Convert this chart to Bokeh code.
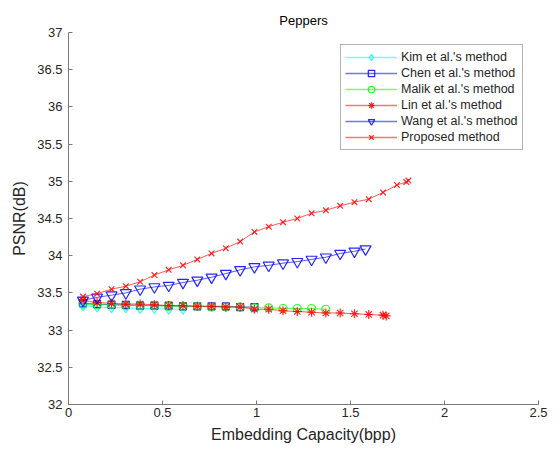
from bokeh.plotting import figure
from bokeh.models import Range1d, FixedTicker, Legend, LegendItem
from bokeh.embed import file_html
from bokeh.resources import INLINE

# PSNR versus embedding capacity for the Peppers image
kim_x = [0.077, 0.152, 0.229, 0.305, 0.381, 0.457, 0.533, 0.609]
kim_y = [33.33, 33.31, 33.30, 33.30, 33.29, 33.29, 33.28, 33.28]

chen_x = [0.077, 0.152, 0.229, 0.305, 0.381, 0.457, 0.533, 0.609, 0.685,
          0.761, 0.837, 0.913, 0.989]
chen_y = [33.36, 33.35, 33.34, 33.34, 33.33, 33.33, 33.33, 33.32, 33.32,
          33.32, 33.32, 33.31, 33.31]

malik_x = [0.077, 0.152, 0.229, 0.305, 0.381, 0.457, 0.533, 0.609, 0.685,
           0.761, 0.837, 0.913, 0.989, 1.065, 1.141, 1.217, 1.293, 1.369]
malik_y = [33.35, 33.34, 33.34, 33.33, 33.33, 33.33, 33.32, 33.32, 33.32,
           33.31, 33.31, 33.31, 33.30, 33.30, 33.29, 33.29, 33.29, 33.28]

lin_x = [0.077, 0.152, 0.229, 0.305, 0.381, 0.457, 0.533, 0.609, 0.685,
         0.761, 0.837, 0.913, 0.989, 1.065, 1.141, 1.217, 1.293, 1.369,
         1.445, 1.521, 1.597, 1.673, 1.690]
lin_y = [33.40, 33.37, 33.36, 33.35, 33.35, 33.34, 33.33, 33.33, 33.32,
         33.32, 33.31, 33.31, 33.28, 33.28, 33.26, 33.25, 33.24, 33.23,
         33.23, 33.22, 33.21, 33.20, 33.19]

wang_x = [0.077, 0.152, 0.229, 0.305, 0.381, 0.457, 0.533, 0.609, 0.685,
          0.761, 0.837, 0.913, 0.989, 1.065, 1.141, 1.217, 1.293, 1.369,
          1.445, 1.521, 1.580]
wang_y = [33.40, 33.44, 33.47, 33.50, 33.55, 33.58, 33.60, 33.64, 33.67,
          33.71, 33.76, 33.81, 33.85, 33.87, 33.90, 33.92, 33.95, 33.98,
          34.03, 34.06, 34.09]

prop_x = [0.077, 0.152, 0.229, 0.305, 0.381, 0.457, 0.533, 0.609, 0.685,
          0.761, 0.837, 0.913, 0.989, 1.065, 1.141, 1.217, 1.293, 1.369,
          1.445, 1.521, 1.597, 1.673, 1.747, 1.797, 1.808]
prop_y = [33.45, 33.49, 33.55, 33.59, 33.65, 33.74, 33.81, 33.87, 33.95,
          34.03, 34.10, 34.19, 34.32, 34.39, 34.45, 34.50, 34.57, 34.61,
          34.67, 34.72, 34.76, 34.85, 34.95, 34.99, 35.01]

x_ticks = [0, 0.5, 1, 1.5, 2, 2.5]
x_tick_labels = ["0", "0.5", "1", "1.5", "2", "2.5"]
y_ticks = [32, 32.5, 33, 33.5, 34, 34.5, 35, 35.5, 36, 36.5, 37]
y_tick_labels = ["32", "32.5", "33", "33.5", "34", "34.5", "35", "35.5",
                 "36", "36.5", "37"]

FONT = "Liberation Sans"
TEXT = "#262626"
AXIS = "#7a7a7a"

p = figure(width=558, height=450, output_backend="svg", toolbar_location=None,
           x_range=Range1d(0, 2.5), y_range=Range1d(32, 37),
           min_border_left=68, min_border_right=20,
           min_border_top=32, min_border_bottom=46,
           title="Peppers")

p.title.align = "center"
p.title.text_font = FONT
p.title.text_font_size = "13px"
p.title.text_font_style = "normal"
p.title.text_color = "#000000"

p.xgrid.visible = False
p.ygrid.visible = False
p.outline_line_color = None
p.background_fill_color = "white"
p.border_fill_color = "white"

for ax in (p.xaxis[0], p.yaxis[0]):
    ax.axis_line_color = AXIS
    ax.axis_line_width = 1
    ax.major_tick_line_color = AXIS
    ax.major_tick_in = 4
    ax.major_tick_out = 0
    ax.minor_tick_line_color = None
    ax.major_label_text_font = FONT
    ax.major_label_text_font_size = "13px"
    ax.major_label_text_color = TEXT
    ax.axis_label_text_font = FONT
    ax.axis_label_text_font_size = "16px"
    ax.axis_label_text_font_style = "normal"
    ax.axis_label_text_color = TEXT

p.xaxis[0].ticker = FixedTicker(ticks=x_ticks)
p.xaxis[0].major_label_overrides = dict(zip(x_ticks, x_tick_labels))
p.xaxis[0].axis_label = "Embedding Capacity(bpp)"
p.xaxis[0].major_label_standoff = 3
p.xaxis[0].axis_label_standoff = 6

p.yaxis[0].ticker = FixedTicker(ticks=y_ticks)
p.yaxis[0].major_label_overrides = dict(zip(y_ticks, y_tick_labels))
p.yaxis[0].axis_label = "PSNR(dB)"
p.yaxis[0].major_label_standoff = 6
p.yaxis[0].axis_label_standoff = 6

series = [
    ("Kim et al.'s method", kim_x, kim_y, "#00ffff", "diamond", 10),
    ("Chen et al.'s method", chen_x, chen_y, "#0000ff", "square", 7),
    ("Malik et al.'s method", malik_x, malik_y, "#00ff00", "circle", 8),
    ("Lin et al.'s method", lin_x, lin_y, "#ff0000", "asterisk", 9),
    ("Wang et al.'s method", wang_x, wang_y, "#0000ff", "inverted_triangle", 11),
    ("Proposed method", prop_x, prop_y, "#ff0000", "x", 8),
]

items = []
for label, xs, ys, color, marker, size in series:
    ln = p.line(xs, ys, line_color=color, line_width=1, line_alpha=0.65)
    sc = p.scatter(xs, ys, marker=marker, size=size, line_color=color,
                   fill_color=None, line_width=1.2, line_alpha=0.85)
    # legend sample stroke, softer than the plotted line
    key = p.line(xs, ys, line_color=color, line_width=1.5, line_alpha=0.55,
                 visible=False)
    items.append(LegendItem(label=label, renderers=[key, sc]))

legend = Legend(items=items, location=(272, 254))
legend.label_text_font = FONT
legend.label_text_font_size = "12.5px"
legend.label_text_color = TEXT
legend.glyph_width = 52
legend.glyph_height = 16
legend.label_height = 16
legend.label_standoff = 4
legend.spacing = 0
legend.padding = 4
legend.margin = 0
legend.inactive_fill_alpha = 0
legend.border_line_color = "#666666"
legend.border_line_width = 1
legend.background_fill_color = "white"
legend.background_fill_alpha = 1
p.add_layout(legend, "center")

open("out.html", "w").write(file_html(p, INLINE))
